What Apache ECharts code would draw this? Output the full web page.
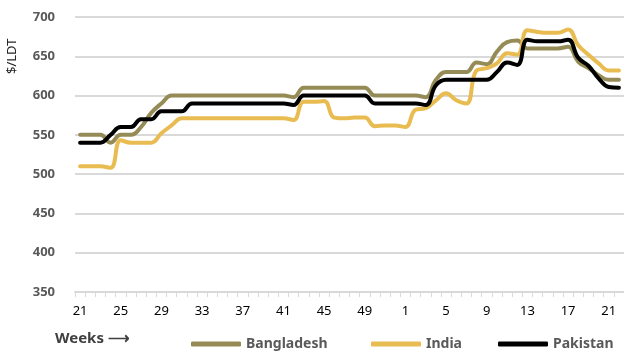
<!DOCTYPE html>
<html>
<head>
<meta charset="utf-8">
<script src="https://cdn.jsdelivr.net/npm/echarts@6/dist/echarts.min.js"></script>
<style>
  html, body { margin: 0; padding: 0; background: #fff; }
  #chart { width: 624px; height: 354px; }
</style>
</head>
<body>
<div id="chart"></div>
<script>
// Week numbers: 21..52 of the first year, then 1..22 of the next
const weeks = [21,22,23,24,25,26,27,28,29,30,31,32,33,34,35,36,37,38,39,40,41,42,43,44,45,46,47,48,49,50,51,52,
               1,2,3,4,5,6,7,8,9,10,11,12,13,14,15,16,17,18,19,20,21,22];

// Prices in $/LDT
const bangladesh = [550,550,550,540,550,550,560,578,590,600,600,
                    600,600,600,600,600,600,600,600,600,600,
                    598,610,610,610,610,610,610,610,600,600,600,
                    600,600,598,620,630,630,630,642,640,656,668,670,660,660,660,660,662,643,635,626,620,620];
const india = [510,510,510,508,543,540,540,540,552,562,571,
               571,571,571,571,571,571,571,571,571,571,
               569,592,592,593,572,571,572,572,561,562,562,
               560,582,584,594,603,594,590,632,635,641,654,652,683,681,680,680,684,664,652,641,632,632];
const pakistan = [540,540,540,550,560,560,570,570,580,580,580,
                  590,590,590,590,590,590,590,590,590,590,
                  588,600,600,600,600,600,600,600,590,590,590,
                  590,590,588,613,620,620,620,620,620,630,642,639,671,669,669,669,671,648,638,622,611,610];

const yTicks = { min: 350, max: 700, step: 50 };

const colors = { Bangladesh: '#958B56', India: '#E9BC52', Pakistan: '#000000' };
const font = '"Noto Sans", "Liberation Sans", sans-serif';

const chart = echarts.init(document.getElementById('chart'), null, { renderer: 'canvas' });

function lineSeries(name, data) {
  return {
    name: name,
    type: 'line',
    data: data,
    smooth: 0.45,
    symbol: 'none',
    lineStyle: { width: 4, color: colors[name], cap: 'round', join: 'round' },
    itemStyle: { color: colors[name] },
    emphasis: { disabled: true }
  };
}

function legendFor(name, left) {
  return {
    data: [name],
    left: left,
    top: 332,
    icon: 'roundRect',
    itemWidth: 50,
    itemHeight: 5,
    itemGap: 0,
    selectedMode: false,
    textStyle: { fontFamily: font, fontSize: 14, fontWeight: 'bold', color: '#595959' }
  };
}

chart.setOption({
  animation: false,
  backgroundColor: '#ffffff',
  grid: { left: 75, right: 0, top: 17, bottom: 62, containLabel: false },
  xAxis: {
    type: 'category',
    data: weeks,
    boundaryGap: true,
    axisLine: { show: true, lineStyle: { color: '#d9d9d9', width: 2 } },
    axisTick: { show: true, interval: 0, length: 5, lineStyle: { color: '#d9d9d9', width: 1 } },
    axisLabel: { interval: 3, margin: 13, fontFamily: font, fontSize: 13, color: '#000000' },
    splitLine: { show: false }
  },
  yAxis: {
    type: 'value',
    min: yTicks.min,
    max: yTicks.max,
    interval: yTicks.step,
    axisLine: { show: false },
    axisTick: { show: false },
    axisLabel: { margin: 20, fontFamily: font, fontSize: 13, fontWeight: 'bold', color: '#595959' },
    splitLine: { lineStyle: { color: '#d9d9d9', width: 2 } }
  },
  legend: [
    legendFor('Bangladesh', 186),
    legendFor('India', 366),
    legendFor('Pakistan', 493)
  ],
  graphic: [
    {
      type: 'text',
      left: 55,
      top: 331,
      style: { text: 'Weeks \u27F6', fontFamily: font, fontSize: 15, fontWeight: 'bold', fill: '#404040' }
    },
    {
      type: 'text',
      x: 6,
      y: 74,
      rotation: Math.PI / 2,
      style: { text: '$/LDT', fontFamily: font, fontSize: 13, fill: '#262626' }
    }
  ],
  series: [
    lineSeries('Bangladesh', bangladesh),
    lineSeries('India', india),
    lineSeries('Pakistan', pakistan)
  ]
});
</script>
</body>
</html>
